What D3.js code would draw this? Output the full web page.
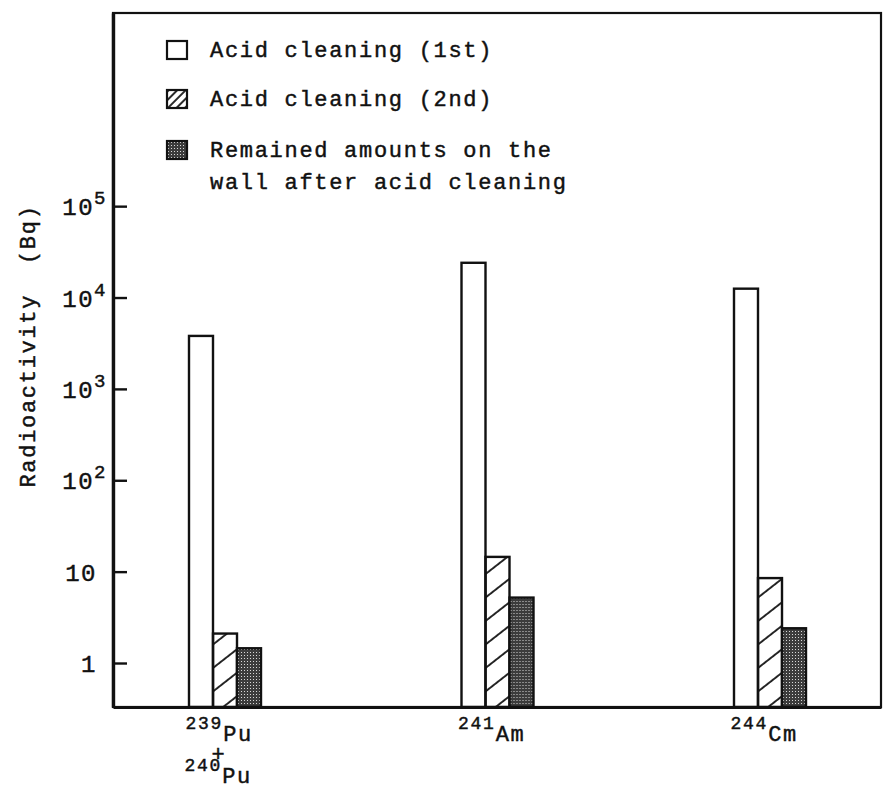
<!DOCTYPE html>
<html lang="en">
<head>
    <meta charset="UTF-8">
    <title>Radioactivity after acid cleaning</title>
    <script src="https://d3js.org/d3.v7.min.js"></script>
    <style>
        body { margin: 0; background: #fff; }
        text { font-family: "Liberation Mono", "DejaVu Sans Mono", monospace; fill: #111; stroke: #111; stroke-width: 0.45px; }
    </style>
</head>
<body>

    <script>

        // data
        var categories = ["Pu", "Am", "Cm"];
        var massNumbers = ["239", "241", "244"];
        var seriesNames = ["Acid cleaning (1st)", "Acid cleaning (2nd)", "Remained amounts on the"];
        var seriesKeys = ["first", "second", "remain"];
        var firstCleaning = [3800, 24000, 12500];
        var secondCleaning = [2.1, 14.5, 8.5];
        var remained = [1.45, 5.2, 2.4];
        var yTicks = [1, 10, 100, 1000, 10000, 100000];
        var yTickBase = ["1", "10", "10", "10", "10", "10"];
        var yTickSup = ["", "", "2", "3", "4", "5"];

        var width = 885;
        var height = 790;
        var plotLeft = 113, plotRight = 881, plotTop = 13, plotBottom = 707;

        var svg = d3.select("body")
            .append("svg")
            .attr("width", width)
            .attr("height", height);

        var defs = svg.append("defs");

        // diagonal hatching for the 2nd cleaning
        defs.append("pattern")
            .attr("id", "hatch")
            .attr("patternUnits", "userSpaceOnUse")
            .attr("width", 10)
            .attr("height", 18.5)
            .attr("patternTransform", "rotate(-38)")
            .append("line")
            .attr("x1", 0).attr("y1", 1)
            .attr("x2", 10).attr("y2", 1)
            .attr("stroke", "#111")
            .attr("stroke-width", 1.8);

        defs.append("pattern")
            .attr("id", "hatchSmall")
            .attr("patternUnits", "userSpaceOnUse")
            .attr("width", 6)
            .attr("height", 6)
            .attr("patternTransform", "rotate(-45)")
            .append("line")
            .attr("x1", 0).attr("y1", 1)
            .attr("x2", 6).attr("y2", 1)
            .attr("stroke", "#111")
            .attr("stroke-width", 1.8);

        // dark stipple for remained amounts
        var stip = defs.append("pattern")
            .attr("id", "stipple")
            .attr("patternUnits", "userSpaceOnUse")
            .attr("width", 3)
            .attr("height", 3);
        stip.append("rect").attr("width", 3).attr("height", 3).attr("fill", "#3c3c3c");
        stip.append("rect").attr("x", 1).attr("y", 1).attr("width", 1).attr("height", 1).attr("fill", "#d8d8d8");

        var fills = { first: "#fff", second: "url(#hatch)", remain: "url(#stipple)" };
        var legendFills = { first: "#fff", second: "url(#hatchSmall)", remain: "url(#stipple)" };

        var y = d3.scaleLog()
            .domain([0.33, 1.3e7])
            .range([plotBottom, plotTop]);

        var x = d3.scalePoint()
            .domain(categories)
            .range([plotLeft + 112, plotRight - 111]);

        var xSub = d3.scaleBand()
            .domain(seriesKeys)
            .range([-36, 36]);

        var rows = categories.map(function (c, i) {
            return { cat: c, first: firstCleaning[i], second: secondCleaning[i], remain: remained[i] };
        });

        // bars
        var groups = svg.selectAll(".group")
            .data(rows)
            .enter()
                .append("g")
                .attr("class", "group")
                .attr("transform", function (d) { return "translate(" + x(d.cat) + ",0)"; });

        groups.selectAll("rect")
            .data(function (d) { return seriesKeys.map(function (k) { return { key: k, value: d[k] }; }); })
            .enter()
                .append("rect")
                .attr("x", function (d) { return xSub(d.key); })
                .attr("width", xSub.bandwidth())
                .attr("y", function (d) { return y(d.value); })
                .attr("height", function (d) { return plotBottom - y(d.value); })
                .attr("fill", function (d) { return fills[d.key]; })
                .attr("stroke", "#111")
                .attr("stroke-width", 2.4);

        // frame
        svg.append("rect")
            .attr("x", plotLeft).attr("y", plotTop)
            .attr("width", plotRight - plotLeft).attr("height", plotBottom - plotTop)
            .attr("fill", "none")
            .attr("stroke", "#111")
            .attr("stroke-width", 2.2);

        // y axis with inward ticks
        var yAxis = d3.axisLeft(y)
            .tickValues(yTicks)
            .tickSize(-14)
            .tickSizeOuter(0)
            .tickFormat("");

        var yg = svg.append("g")
            .attr("transform", "translate(" + plotLeft + ",0)")
            .call(yAxis);
        yg.select(".domain").attr("stroke", "#111").attr("stroke-width", 3.4);
        yg.selectAll(".tick line").attr("stroke", "#111").attr("stroke-width", 2.4);

        // x axis line
        var xg = svg.append("g")
            .attr("transform", "translate(0," + plotBottom + ")")
            .call(d3.axisBottom(d3.scaleLinear().range([plotLeft, plotRight])).ticks(0).tickSizeOuter(0));
        xg.select(".domain").attr("stroke", "#111").attr("stroke-width", 3.2);

        // y tick labels
        var yl = svg.selectAll(".ylab")
            .data(yTicks)
            .enter()
                .append("text")
                .attr("class", "ylab")
                .attr("x", function (d, i) { return yTickSup[i] ? 107 : 97; })
                .attr("y", function (d) { return y(d) + 9; })
                .attr("text-anchor", "end")
                .style("font-size", "24px")
                .style("letter-spacing", "1.5px");
        yl.append("tspan").text(function (d, i) { return yTickBase[i]; });
        yl.append("tspan")
            .attr("dy", -11)
            .style("font-size", "19px")
            .text(function (d, i) { return yTickSup[i]; });

        // y axis title
        svg.append("text")
            .attr("transform", "translate(35,346) rotate(-90)")
            .attr("text-anchor", "middle")
            .style("font-size", "22px")
            .style("letter-spacing", "1.7px")
            .style("white-space", "pre")
            .text("Radioactivity  (Bq)");

        // x tick labels
        var xl = svg.selectAll(".xlab")
            .data(categories)
            .enter()
                .append("text")
                .attr("class", "xlab")
                .attr("x", function (d) { return x(d) - 6; })
                .attr("y", 741)
                .attr("text-anchor", "middle");
        xl.append("tspan")
            .attr("dy", -12)
            .style("font-size", "18px")
            .style("letter-spacing", "1.8px")
            .text(function (d, i) { return massNumbers[i]; });
        xl.append("tspan")
            .attr("dy", 12)
            .style("font-size", "22px")
            .style("letter-spacing", "1.5px")
            .text(function (d) { return d; });

        // second isotope under Pu
        var pu2 = svg.append("text")
            .attr("x", x("Pu") - 7)
            .attr("y", 783)
            .attr("text-anchor", "middle");
        pu2.append("tspan")
            .attr("dy", -12)
            .style("font-size", "18px")
            .style("letter-spacing", "1.8px")
            .text("240");
        pu2.append("tspan")
            .attr("dy", 12)
            .style("font-size", "22px")
            .style("letter-spacing", "1.5px")
            .text("Pu");
        svg.append("text")
            .attr("x", x("Pu") - 7)
            .attr("y", 761)
            .attr("text-anchor", "middle")
            .style("font-size", "22px")
            .text("+");

        // legend
        var legendY = [50, 99, 150];
        var leg = svg.selectAll(".legend")
            .data(seriesKeys)
            .enter()
                .append("g")
                .attr("class", "legend")
                .attr("transform", function (d, i) { return "translate(167," + legendY[i] + ")"; });

        leg.append("rect")
            .attr("x", 0).attr("y", -9)
            .attr("width", 20).attr("height", 18)
            .attr("fill", function (d) { return legendFills[d]; })
            .attr("stroke", "#111")
            .attr("stroke-width", 2.2);

        leg.append("text")
            .attr("x", 43)
            .attr("y", 7)
            .style("font-size", "22px")
            .style("letter-spacing", "1.7px")
            .text(function (d, i) { return seriesNames[i]; });

        svg.append("text")
            .attr("x", 210)
            .attr("y", 189)
            .style("font-size", "22px")
            .style("letter-spacing", "1.7px")
            .text("wall after acid cleaning");

    </script>

</body>
</html>
